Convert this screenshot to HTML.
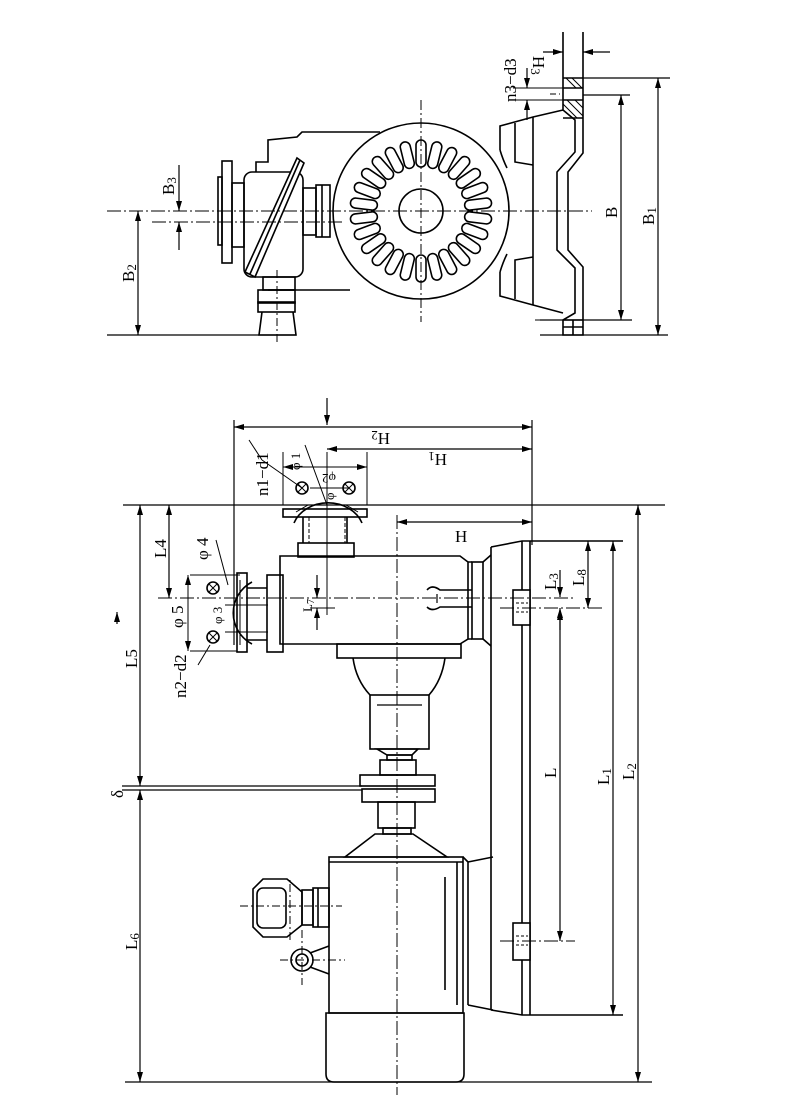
<!DOCTYPE html>
<html><head><meta charset="utf-8"><style>
html,body{margin:0;padding:0;background:#fff}
svg{display:block}
text{font-family:"Liberation Serif",serif;font-size:17px;fill:#000}
.s{font-size:13px}
</style></head><body>
<svg width="800" height="1112" viewBox="0 0 800 1112" xmlns="http://www.w3.org/2000/svg">
<defs>
<marker id="a" viewBox="0 0 10 6" refX="10" refY="3" markerWidth="10" markerHeight="6" orient="auto-start-reverse" markerUnits="userSpaceOnUse"><path d="M0,0 L10,3 L0,6 z" fill="#000"/></marker>
<rect id="slot" x="-5" y="-71" width="10" height="27" rx="5" fill="none" stroke="#000" stroke-width="1.6"/>
</defs>
<g fill="none" stroke="#000" stroke-width="1.6">
<!-- ===== TOP VIEW ===== -->
<circle cx="421" cy="211" r="88" fill="#fff"/>
<circle cx="421" cy="211" r="22"/>
<g transform="translate(421,211)">
<use href="#slot" transform="rotate(0)"/><use href="#slot" transform="rotate(13.85)"/><use href="#slot" transform="rotate(27.7)"/><use href="#slot" transform="rotate(41.5)"/><use href="#slot" transform="rotate(55.4)"/><use href="#slot" transform="rotate(69.2)"/><use href="#slot" transform="rotate(83.1)"/><use href="#slot" transform="rotate(96.9)"/><use href="#slot" transform="rotate(110.8)"/><use href="#slot" transform="rotate(124.6)"/><use href="#slot" transform="rotate(138.5)"/><use href="#slot" transform="rotate(152.3)"/><use href="#slot" transform="rotate(166.2)"/><use href="#slot" transform="rotate(180)"/><use href="#slot" transform="rotate(193.8)"/><use href="#slot" transform="rotate(207.7)"/><use href="#slot" transform="rotate(221.5)"/><use href="#slot" transform="rotate(235.4)"/><use href="#slot" transform="rotate(249.2)"/><use href="#slot" transform="rotate(263.1)"/><use href="#slot" transform="rotate(276.9)"/><use href="#slot" transform="rotate(290.8)"/><use href="#slot" transform="rotate(304.6)"/><use href="#slot" transform="rotate(318.5)"/><use href="#slot" transform="rotate(332.3)"/><use href="#slot" transform="rotate(346.2)"/>
</g>
<!-- bracket -->
<path d="M500,150 L500,126 L533,117 L563,110"/>
<path d="M500,272 L500,296 L533,305 L563,313"/>
<path d="M533,117 L533,305"/>
<path d="M515,123 L515,162 L533,165"/>
<path d="M515,299 L515,260 L533,257"/>
<path d="M500,150 Q503,160 507,168"/>
<path d="M500,272 Q503,262 507,254"/>
<!-- plate zigzag -->
<path d="M563,32 L563,110 L575,120 L575,152 L557,172 L557,250 L575,268 L575,313 L563,320 L563,335 L583,335 L583,267 L568,250 L568,172 L583,153 L583,32"/>
<path d="M563,78 L583,78 M563,88 L583,88 M563,100 L583,100 M563,118 L583,118"/>
<path d="M566,78 L576,88 M572,78 L582,88 M563,104 L577,118 M567,100 L583,116 M575,100 L583,108" stroke-width="1"/>
<path d="M573,320 L573,335 M563,320 L583,320 M563,327 L583,327"/>
<!-- left pump top view -->
<rect x="222" y="161" width="10" height="102"/>
<rect x="218" y="177" width="4" height="68"/>
<rect x="232" y="183" width="12" height="64"/>
<rect x="244" y="172" width="59" height="105" rx="8"/>
<path d="M245,272 L297,158 L304,163 L255,277 Z" fill="#fff"/>
<path d="M250,274 L300,160"/>
<path d="M256,172 L256,162 L268,162 L268,140 L297,137 L302,132 L380,132"/>
<rect x="303" y="188" width="13" height="47"/>
<rect x="316" y="185" width="14" height="52"/>
<path d="M322,185 L322,237"/>
<path d="M268,290 L350,290"/>
<rect x="263" y="277" width="32" height="13"/>
<rect x="258" y="290" width="37" height="13"/>
<rect x="258" y="302" width="37" height="10"/>
<path d="M262,312 L259,335 L296,335 L293,312"/>
<!-- dims top -->
<path d="M107,211 L592,211" stroke-width="1" stroke-dasharray="14,3,2,3"/>
<path d="M421,100 L421,322" stroke-width="1" stroke-dasharray="10,3,2,3"/>
<path d="M277,270 L277,345" stroke-width="1" stroke-dasharray="8,3,2,3"/>
<path d="M152,222 L345,222" stroke-width="1" stroke-dasharray="14,3,2,3"/>
<path d="M107,335 L296,335 M540,335 L668,335" stroke-width="1.2"/>
<path d="M138,211 L138,335" stroke-width="1.2" marker-start="url(#a)" marker-end="url(#a)"/>
<path d="M179,165 L179,211" stroke-width="1.2" marker-end="url(#a)"/>
<path d="M179,250 L179,222" stroke-width="1.2" marker-end="url(#a)"/>
<path d="M583,95 L630,95 M540,320 L632,320 M583,78 L670,78" stroke-width="1.2"/>
<path d="M621,95 L621,320" stroke-width="1.2" marker-start="url(#a)" marker-end="url(#a)"/>
<path d="M658,78 L658,335" stroke-width="1.2" marker-start="url(#a)" marker-end="url(#a)"/>
<path d="M543,52 L563,52" stroke-width="1.2" marker-end="url(#a)"/>
<path d="M610,52 L583,52" stroke-width="1.2" marker-end="url(#a)"/>
<path d="M513,88 L563,88 M513,100 L563,100" stroke-width="1"/>
<path d="M527,68 L527,88" stroke-width="1.2" marker-end="url(#a)"/>
<path d="M527,120 L527,100" stroke-width="1.2" marker-end="url(#a)"/>
<path d="M535,320 L560,320" stroke-width="1" stroke-dasharray="6,3,2,3"/>
<path d="M550,94 L560,94" stroke-width="1" stroke-dasharray="6,3,2,3"/>

<!-- ===== SIDE VIEW ===== -->
<path d="M123,505 L665,505" stroke-width="1.2"/>
<path d="M234,427 L532,427" stroke-width="1.2" marker-start="url(#a)" marker-end="url(#a)"/>
<path d="M327,449 L532,449" stroke-width="1.2" marker-start="url(#a)" marker-end="url(#a)"/>
<path d="M327,398 L327,425" stroke-width="1.2" marker-end="url(#a)"/>
<path d="M234,420 L234,645 M532,420 L532,545" stroke-width="1.2"/>
<path d="M397,522 L532,522" stroke-width="1.2" marker-start="url(#a)" marker-end="url(#a)"/>
<path d="M327,452 L327,615" stroke-width="1"/>
<!-- top nozzle -->
<rect x="283" y="509" width="84" height="8"/>
<path d="M303,517 L303,543 M347,517 L347,543"/>
<path d="M309,517 L309,543 M345,517 L345,543" stroke-width="1" stroke-dasharray="4,2"/>
<rect x="298" y="543" width="56" height="14"/>
<path d="M294,523 A36,30 0 0 1 362,523" />
<path d="M296,512 L308,505 M358,512 L346,505" stroke-width="1"/>
<circle cx="302" cy="488" r="6"/><circle cx="349" cy="488" r="6"/>
<path d="M298,484 L306,492 M306,484 L298,492 M345,484 L353,492 M353,484 L345,492" stroke-width="1"/>
<path d="M283,452 L283,505 M367,452 L367,505" stroke-width="1"/>
<path d="M283,467 L367,467" stroke-width="1" marker-start="url(#a)" marker-end="url(#a)"/>
<path d="M262,460 L302,488 M305,445 L327,505 M310,488 L349,488" stroke-width="1"/>
<path d="M249,440 L262,460" stroke-width="1"/>
<!-- casing -->
<path d="M280,556 L460,556 L468,562 L468,639 L460,644 L280,644 Z"/>
<rect x="472" y="562" width="11" height="77"/>
<path d="M468,562 L472,562 M468,639 L472,639 M483,562 L491,555 M483,639 L491,646"/>
<path d="M427,590 Q432,584 440,590 L472,590 M427,607 Q432,612 440,607 L472,607"/>
<path d="M437,594 L437,603" stroke-width="1.2"/>
<!-- left nozzle -->
<rect x="267" y="575" width="16" height="77"/>
<path d="M247,588 L267,588 M247,640 L267,640"/>
<rect x="237" y="573" width="10" height="79"/>
<path d="M240,580 L240,645" stroke-width="1"/>
<path d="M252,582 A35,35 0 0 0 252,644"/>
<circle cx="213" cy="588" r="6"/><circle cx="213" cy="637" r="6"/>
<path d="M209,584 L217,592 M217,584 L209,592 M209,633 L217,641 M217,633 L209,641" stroke-width="1"/>
<path d="M230,575 L240,575 M190,575 L237,575 M190,651 L237,651" stroke-width="1"/>
<path d="M188,575 L188,651" stroke-width="1" marker-start="url(#a)" marker-end="url(#a)"/>
<path d="M216,540 L228,585 M198,665 L210,645" stroke-width="1"/>
<path d="M225,605 L268,605 M225,632 L268,632" stroke-width="1"/>
<!-- below casing -->
<rect x="337" y="644" width="124" height="14"/>
<path d="M353,658 Q356,680 370,695 M445,658 Q442,680 429,695"/>
<rect x="370" y="695" width="59" height="54"/>
<path d="M377,705 L422,705" stroke-width="1.2"/>
<path d="M377,749 L418,749 L412,755 L387,755 Z"/>
<rect x="387" y="755" width="25" height="5"/>
<rect x="380" y="760" width="36" height="15"/>
<rect x="360" y="775" width="75" height="11"/>
<rect x="362" y="789" width="73" height="13"/>
<rect x="378" y="802" width="37" height="26"/>
<rect x="383" y="828" width="28" height="6"/>
<path d="M375,834 L413,834 L447,857 L345,857 Z"/>
<!-- motor -->
<rect x="329" y="857" width="134" height="156"/>
<path d="M329,862 L463,862"/>
<path d="M457,862 L457,1005 M468,862 L468,1005 M463,857 L468,862 M445,877 L445,990"/>
<path d="M468,862 L493,857 M468,1005 L493,1010"/>
<path d="M326,1013 L464,1013 L464,1074 Q464,1082 456,1082 L334,1082 Q326,1082 326,1074 Z"/>
<path d="M263,879 L287,879 L302,892 L302,925 L287,937 L263,937 L253,927 L253,889 Z"/>
<rect x="257" y="888" width="29" height="40" rx="6"/>
<rect x="302" y="890" width="11" height="35"/>
<rect x="313" y="888" width="16" height="39"/>
<path d="M318,888 L318,927"/>
<circle cx="302" cy="960" r="11"/><circle cx="302" cy="960" r="6"/>
<path d="M310,953 L329,946 M310,967 L329,974"/>
<path d="M240,906 L342,906 M280,960 L345,960 M302,930 L302,985 M290,940 L290,880" stroke-width="1" stroke-dasharray="8,3,2,3"/>
<!-- base -->
<path d="M491,547 L522,541 L623,541"/>
<path d="M491,547 L491,1010 M522,541 L522,1015 M530,541 L530,1015 M491,1010 L522,1015 L623,1015"/>
<rect x="513" y="590" width="17" height="35" fill="#fff"/>
<rect x="513" y="923" width="17" height="37" fill="#fff"/>
<path d="M516,603 L528,603 M516,612 L528,612 M516,936 L528,936 M516,945 L528,945" stroke-width="1" stroke-dasharray="3,2"/>
<!-- centre lines -->
<path d="M158,598 L573,598" stroke-width="1" stroke-dasharray="14,3,2,3"/>
<path d="M500,608 L603,608" stroke-width="1" stroke-dasharray="14,3,2,3"/>
<path d="M500,941 L575,941" stroke-width="1" stroke-dasharray="14,3,2,3"/>
<path d="M397,515 L397,1095" stroke-width="1" stroke-dasharray="14,3,2,3"/>
<!-- right dims -->
<path d="M560,570 L560,597" stroke-width="1.2" marker-end="url(#a)"/>
<path d="M560,630 L560,608" stroke-width="1.2" marker-end="url(#a)"/>
<path d="M588,541 L588,608" stroke-width="1.2" marker-start="url(#a)" marker-end="url(#a)"/>
<path d="M560,610 L560,941" stroke-width="1.2" marker-start="url(#a)" marker-end="url(#a)"/>
<path d="M613,541 L613,1015" stroke-width="1.2" marker-start="url(#a)" marker-end="url(#a)"/>
<path d="M638,505 L638,1082" stroke-width="1.2" marker-start="url(#a)" marker-end="url(#a)"/>
<path d="M125,1082 L652,1082" stroke-width="1.2"/>
<!-- left dims -->
<path d="M140,505 L140,786" stroke-width="1.2" marker-start="url(#a)" marker-end="url(#a)"/>
<path d="M140,790 L140,1082" stroke-width="1.2" marker-start="url(#a)" marker-end="url(#a)"/>
<path d="M169,505 L169,598" stroke-width="1.2" marker-start="url(#a)" marker-end="url(#a)"/>
<path d="M122,786 L362,786 M122,790 L362,790" stroke-width="1.2"/>
<path d="M117,612 L117,624" stroke-width="1.2" marker-start="url(#a)"/>
<path d="M317,575 L317,598" stroke-width="1.2" marker-end="url(#a)"/>
<path d="M317,630 L317,608" stroke-width="1.2" marker-end="url(#a)"/>
<path d="M310,608 L335,608" stroke-width="1"/>
</g>
<!-- labels top view -->
<text transform="translate(134,282) rotate(-90)">B<tspan class="s" dy="2">2</tspan></text>
<text transform="translate(174,195) rotate(-90)">B<tspan class="s" dy="2">3</tspan></text>
<text transform="translate(617,218) rotate(-90)">B</text>
<text transform="translate(654,225) rotate(-90)">B<tspan class="s" dy="2">1</tspan></text>
<text transform="translate(533,56) rotate(90)">H<tspan class="s" dy="2">3</tspan></text>
<text transform="translate(516,102) rotate(-90)">n3−d3</text>
<!-- labels side view -->
<text transform="translate(390,433) rotate(180)">H<tspan class="s" dy="2">2</tspan></text>
<text transform="translate(447,454) rotate(180)">H<tspan class="s" dy="2">1</tspan></text>
<text x="455" y="542">H</text>
<text transform="translate(268,496) rotate(-90)">n1−d1</text>
<text class="s" transform="translate(300,470) rotate(-90)">φ 1</text>
<text class="s" transform="translate(336,474) rotate(180)">φ2</text>
<text class="s" transform="translate(334,500) rotate(-90)">φ</text>
<text transform="translate(166,558) rotate(-90)">L4</text>
<text transform="translate(208,560) rotate(-90)">φ 4</text>
<text transform="translate(183,628) rotate(-90)">φ 5</text>
<text class="s" transform="translate(222,624) rotate(-90)">φ 3</text>
<text transform="translate(186,698) rotate(-90)">n2−d2</text>
<text transform="translate(137,668) rotate(-90)">L5</text>
<text class="s" transform="translate(312,612) rotate(-90)">L<tspan dy="2" style="font-size:10px">7</tspan></text>
<text transform="translate(123,798) rotate(-90)">δ</text>
<text transform="translate(137,950) rotate(-90)">L<tspan class="s" dy="2">6</tspan></text>
<text transform="translate(556,590) rotate(-90)">L<tspan class="s" dy="2">3</tspan></text>
<text transform="translate(584,586) rotate(-90)">L<tspan class="s" dy="2">8</tspan></text>
<text transform="translate(556,778) rotate(-90)">L</text>
<text transform="translate(609,785) rotate(-90)">L<tspan class="s" dy="2">1</tspan></text>
<text transform="translate(634,780) rotate(-90)">L<tspan class="s" dy="2">2</tspan></text>
</svg>
</body></html>
